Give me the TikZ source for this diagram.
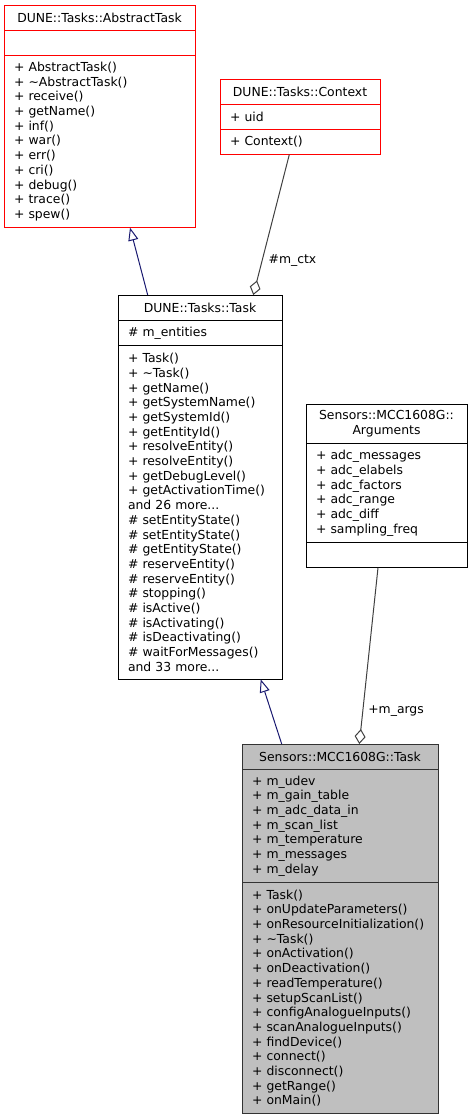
\documentclass[tikz,border=0pt]{standalone}
\usepackage{fontspec}
\setmainfont{DejaVu Sans}
\usetikzlibrary{positioning,arrows.meta}
\definecolor{inhcol}{HTML}{191970}
\definecolor{usecol}{HTML}{404040}
\definecolor{curfill}{HTML}{BFBFBF}

\begin{document}
\begin{tikzpicture}[x=1pt, y=-1pt,
	font={\fontsize{12.4}{14.7}\selectfont},
	sec/.style={draw, line width=1pt, outer sep=0pt, inner xsep=10pt, inner ysep=1pt,
		align=left, anchor=north, minimum height={#1*14.7pt+10.5pt}},
	head/.style={sec=#1, align=center},
	undoc/.style={draw=red},
	cur/.style={draw=black!80, fill=curfill},
	inherit/.style={draw=inhcol, line width=1pt, -{Triangle[open, length=13pt, width=10pt]}},
	member/.style={draw=usecol, line width=1pt, -{Diamond[open, length=15pt, width=11pt]}},
	lbl/.style={inner sep=2pt, anchor=west}]
	
	\useasboundingbox (0,0) rectangle (472,1120);
	
	\node[head=1, undoc, text width=171pt] (AbsName) at (99.5,5) {DUNE::Tasks::AbstractTask};
	\node[sec=1, undoc, text width=171pt, below=0pt of AbsName] (AbsAttr) {};
	\node[sec=11, undoc, text width=171pt, below=0pt of AbsAttr] (AbsMeth) {+ AbstractTask()\\+ \textasciitilde AbstractTask()\\+ receive()\\+ getName()\\+ inf()\\+ war()\\+ err()\\+ cri()\\+ debug()\\+ trace()\\+ spew()};
	
	\node[head=1, undoc, text width=140pt] (CtxName) at (300,79) {DUNE::Tasks::Context};
	\node[sec=1, undoc, text width=140pt, below=0pt of CtxName] (CtxAttr) {+ uid};
	\node[sec=1, undoc, text width=140pt, below=0pt of CtxAttr] (CtxMeth) {+ Context()};
	
	\node[head=1, text width=144pt] (TaskName) at (200,295) {DUNE::Tasks::Task};
	\node[sec=1, text width=144pt, below=0pt of TaskName] (TaskAttr) {\# m\_entities};
	\node[sec=22, text width=144pt, below=0pt of TaskAttr] (TaskMeth) {+ Task()\\+ \textasciitilde Task()\\+ getName()\\+ getSystemName()\\+ getSystemId()\\+ getEntityId()\\+ resolveEntity()\\+ resolveEntity()\\+ getDebugLevel()\\+ getActivationTime()\\and 26 more...\\\# setEntityState()\\\# setEntityState()\\\# getEntityState()\\\# reserveEntity()\\\# reserveEntity()\\\# stopping()\\\# isActive()\\\# isActivating()\\\# isDeactivating()\\\# waitForMessages()\\and 33 more...};
	
	\node[head=2, text width=141pt] (ArgName) at (386.5,404) {Sensors::MCC1608G::\\Arguments};
	\node[sec=6, text width=141pt, below=0pt of ArgName] (ArgAttr) {+ adc\_messages\\+ adc\_elabels\\+ adc\_factors\\+ adc\_range\\+ adc\_diff\\+ sampling\_freq};
	\node[sec=1, text width=141pt, below=0pt of ArgAttr] (ArgMeth) {};
	
	\node[head=1, cur, text width=176pt] (MccName) at (340,744) {Sensors::MCC1608G::Task};
	\node[sec=7, cur, text width=176pt, below=0pt of MccName] (MccAttr) {+ m\_udev\\+ m\_gain\_table\\+ m\_adc\_data\_in\\+ m\_scan\_list\\+ m\_temperature\\+ m\_messages\\+ m\_delay};
	\node[sec=15, cur, text width=176pt, below=0pt of MccAttr] (MccMeth) {+ Task()\\+ onUpdateParameters()\\+ onResourceInitialization()\\+ \textasciitilde Task()\\+ onActivation()\\+ onDeactivation()\\+ readTemperature()\\+ setupScanList()\\+ configAnalogueInputs()\\+ scanAnalogueInputs()\\+ findDevice()\\+ connect()\\+ disconnect()\\+ getRange()\\+ onMain()};
	
	\draw[inherit] ([xshift=-52.3pt]TaskName.north) -- ([xshift=30.5pt]AbsMeth.south);
	\draw[inherit] ([xshift=-58.3pt]MccName.north) -- ([xshift=60.7pt]TaskMeth.south);
	\draw[member] ([xshift=-10.7pt]CtxMeth.south) -- ([xshift=53.3pt]TaskName.north)
		node[lbl, pos=0.755, xshift=4pt] {\#m\_ctx};
	\draw[member] ([xshift=-8.5pt]ArgMeth.south) -- ([xshift=19.3pt]MccName.north)
		node[lbl, pos=0.811, xshift=3pt] {+m\_args};
	
\end{tikzpicture}
\end{document}
